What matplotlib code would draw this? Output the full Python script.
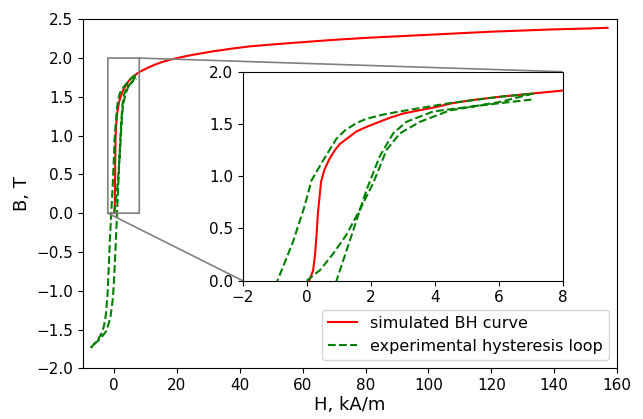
import matplotlib
matplotlib.use("Agg")
import matplotlib.pyplot as plt

# simulated BH curve
sim_H = [0.08, 0.2, 0.26, 0.31, 0.35, 0.40, 0.45, 0.55, 0.70, 0.88, 1.04, 1.3, 1.56,
         1.85, 2.18, 2.6, 3.01, 3.5, 4.0, 4.57, 5.2, 6.02, 7.0, 8.0,
         9.5, 11, 12.7, 15, 17.5, 20.1, 23.5, 27.6, 32, 38.1, 43, 48.8, 58.3,
         70, 80, 90, 100, 110, 120, 130, 140, 150, 157]
sim_B = [0.0, 0.10, 0.25, 0.45, 0.65, 0.80, 0.95, 1.06, 1.16, 1.25, 1.31, 1.37, 1.43,
         1.47, 1.51, 1.56, 1.60, 1.63, 1.66, 1.70, 1.73, 1.76, 1.79, 1.82,
         1.85, 1.88, 1.91, 1.945, 1.975, 2.0, 2.03, 2.06, 2.09, 2.125, 2.15, 2.17, 2.20,
         2.235, 2.26, 2.28, 2.30, 2.32, 2.34, 2.355, 2.37, 2.38, 2.39]

# experimental hysteresis loop (initial curve, descending branch, ascending branch)
exp_H = [0.0, 0.41, 0.83, 1.24, 1.66, 2.07, 2.49, 2.91, 3.53, 4.47, 6.02, 7.06,
         6.02, 4.47, 2.91, 2.39, 1.87, 1.56, 1.2, 0.93, 0.52, 0.15, -0.08, -0.42, -0.73, -0.89,
         -1.3, -1.7, -2.1, -2.6, -3.2, -4.0, -5.0, -6.0, -6.6, -7.3,
         -6.8, -5.5, -4.0, -2.5, -1.2, -0.4, 0.0, 0.5, 0.93,
         1.45, 1.87, 2.28, 2.70, 3.11, 3.95, 5.5, 7.06]
exp_B = [0.0, 0.10, 0.26, 0.44, 0.68, 0.93, 1.25, 1.41, 1.52, 1.63, 1.71, 1.79,
         1.76, 1.70, 1.62, 1.59, 1.55, 1.51, 1.44, 1.36, 1.155, 0.96, 0.70, 0.38, 0.14, 0.02,
         -0.3, -0.7, -1.05, -1.3, -1.45, -1.55, -1.62, -1.67, -1.70, -1.73,
         -1.70, -1.66, -1.60, -1.52, -1.35, -1.1, -0.85, -0.4, 0.0,
         0.48, 0.87, 1.19, 1.41, 1.52, 1.62, 1.68, 1.735]

fig = plt.figure(figsize=(6.43, 4.19), dpi=100)
ax = fig.add_axes([0.1286, 0.121, 0.831, 0.833])
ax.plot(sim_H, sim_B, color="red", lw=1.5, label="simulated BH curve")
ax.plot(exp_H, exp_B, color="green", lw=1.5, ls="--", label="experimental hysteresis loop")
ax.set_xlim(-10, 160)
ax.set_ylim(-2.0, 2.5)
ax.set_xticks(range(0, 161, 20))
ax.set_yticks([-2.0, -1.5, -1.0, -0.5, 0.0, 0.5, 1.0, 1.5, 2.0, 2.5])
ax.tick_params(labelsize=11)
ax.set_xlabel("H, kA/m", fontsize=13, labelpad=2)
ax.set_ylabel("B, T", fontsize=13)
ax.legend(loc="lower right", fontsize=11.5, handlelength=1.8)

axin = fig.add_axes([0.3774, 0.330, 0.498, 0.4988])
axin.plot(sim_H, sim_B, color="red", lw=1.5)
axin.plot(exp_H, exp_B, color="green", lw=1.5, ls="--")
axin.set_xlim(-2, 8)
axin.set_ylim(0, 2)
axin.set_xticks([-2, 0, 2, 4, 6, 8])
axin.set_yticks([0.0, 0.5, 1.0, 1.5, 2.0])
axin.tick_params(labelsize=11)
ax.indicate_inset_zoom(axin, edgecolor="gray", alpha=1.0, linewidth=1.2)

fig.savefig("out.png", dpi=100)
